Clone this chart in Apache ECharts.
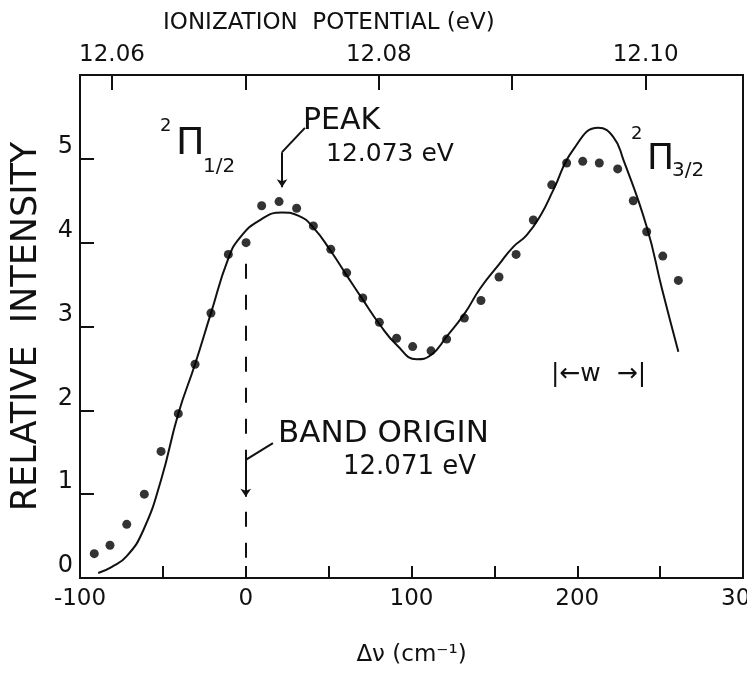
<!DOCTYPE html>
<html lang="en">
<head>
<meta charset="UTF-8">
<title>Relative intensity vs. wavenumber shift</title>
<script src="https://cdn.jsdelivr.net/npm/echarts@6.0.0/dist/echarts.min.js"></script>
<style>
  html, body { margin: 0; padding: 0; background: #fff; }
  #chart { width: 747px; height: 674px; }
</style>
</head>
<body>
<div id="chart"></div>
<script>
// observed points (dots): shift in cm^-1 and relative intensity
const dotShift = [-91.4, -81.9, -71.8, -61.2, -51.1, -40.7, -30.6, -21.0, -10.5, 0.2,
  9.6, 20.1, 30.7, 40.8, 51.3, 60.9, 70.6, 80.6, 91.0, 100.7,
  111.8, 121.2, 131.9, 141.9, 152.8, 163.1, 173.5, 184.6, 193.6, 203.3,
  213.3, 224.4, 233.8, 241.9, 251.6, 261.0];
const dotIntensity = [0.29, 0.39, 0.64, 1.00, 1.51, 1.96, 2.55, 3.16, 3.86, 4.00,
  4.44, 4.49, 4.41, 4.20, 3.92, 3.64, 3.34, 3.05, 2.86, 2.76,
  2.71, 2.85, 3.10, 3.31, 3.59, 3.86, 4.27, 4.69, 4.95, 4.97,
  4.95, 4.88, 4.50, 4.13, 3.84, 3.55];

// calculated contour (solid line)
const curveShift = [-89, -81, -71.8, -61.8, -51.1, -40.7, -30.6, -21.0, -10.7, -3.5,
  8.6, 22, 32, 40.8, 51.3, 60.9, 70.6, 80.6, 91.1, 103.1,
  111.8, 121.2, 131.9, 141.3, 152.8, 161.4, 169.5, 178, 185.6, 197.6,
  212.7, 221.8, 227.8, 241.9, 251.1, 261.0];
const curveIntensity = [0.06, 0.13, 0.26, 0.57, 1.17, 1.96, 2.55, 3.16, 3.80, 4.06,
  4.27, 4.36, 4.32, 4.18, 3.90, 3.61, 3.32, 3.03, 2.78, 2.61,
  2.66, 2.88, 3.15, 3.45, 3.74, 3.95, 4.09, 4.33, 4.63, 5.11,
  5.37, 5.26, 4.99, 4.19, 3.45, 2.70];

// axes
const shiftLabels = [-100, 0, 100, 200, 300];
const ipTicks = [12.06, 12.07, 12.08, 12.09, 12.10];
const ipLabels = [12.06, 12.08, 12.10];
const intensityLabels = [0, 1, 2, 3, 4, 5];

const FONT = 'DejaVu Sans';
const INK = '#111';

const chart = echarts.init(document.getElementById('chart'));

const option = {
  backgroundColor: '#fff',
  animation: false,
  title: {
    text: 'IONIZATION  POTENTIAL (eV)',
    left: 158,
    top: 7,
    textStyle: { fontFamily: FONT, fontSize: 23, fontWeight: 'normal', color: INK }
  },
  grid: {
    left: 80, right: 4, top: 75, bottom: 96,
    containLabel: false,
    outerBoundsMode: 'none',
    show: true, borderColor: INK, borderWidth: 2, backgroundColor: 'transparent'
  },
  xAxis: [
    {
      type: 'value',
      position: 'bottom',
      min: -100, max: 300, interval: 50,
      axisLine: { show: false, onZero: false },
      axisTick: { inside: true, length: 12, lineStyle: { color: INK, width: 2 } },
      splitLine: { show: false },
      axisLabel: {
        margin: 10, color: INK, fontFamily: FONT, fontSize: 23,
        formatter: v => (shiftLabels.indexOf(v) >= 0 ? String(v) : '')
      },
      name: 'Δν (cm⁻¹)',
      nameLocation: 'middle',
      nameGap: 66,
      nameTextStyle: { fontFamily: FONT, fontSize: 23, color: INK }
    },
    {
      type: 'value',
      position: 'top',
      min: 12.0576, max: 12.1073,
      axisLine: { show: false, onZero: false },
      axisTick: { inside: true, length: 15, customValues: ipTicks, lineStyle: { color: INK, width: 2 } },
      splitLine: { show: false },
      axisLabel: {
        margin: 8, color: INK, fontFamily: FONT, fontSize: 23,
        customValues: ipLabels,
        formatter: v => v.toFixed(2)
      }
    }
  ],
  yAxis: {
    type: 'value',
    min: 0, max: 6, interval: 1,
    axisLine: { show: false, onZero: false },
    axisTick: { inside: true, length: 14, lineStyle: { color: INK, width: 2 } },
    splitLine: { show: false },
    axisLabel: {
      margin: 7, color: INK, fontFamily: FONT, fontSize: 24, verticalAlign: 'bottom',
      formatter: v => (intensityLabels.indexOf(v) >= 0 ? String(v) : '')
    },
    name: 'RELATIVE  INTENSITY',
    nameLocation: 'middle',
    nameGap: 36,
    nameRotate: 90,
    nameTextStyle: { fontFamily: FONT, fontSize: 35, color: INK }
  },
  series: [
    {
      name: 'calculated',
      type: 'line',
      data: curveShift.map((x, i) => [x, curveIntensity[i]]),
      smooth: 0.5,
      symbol: 'none',
      lineStyle: { color: INK, width: 2 },
      z: 2,
      markLine: {
        silent: true,
        symbol: 'none',
        label: { show: false },
        lineStyle: { color: INK, width: 2, type: 'solid' },
        data: [
          // band origin dashed marker
          [{ coord: [0, 3.75], lineStyle: { type: [15, 16], width: 2 } }, { coord: [0, 0] }],
          // peak leader
          [{ coord: [35.7, 5.37] }, { coord: [21.9, 5.08] }],
          [{ coord: [21.9, 5.08] }, { coord: [21.9, 4.66], symbol: 'arrow', symbolSize: 8 }],
          // band origin leader
          [{ coord: [16.4, 1.61] }, { coord: [0, 1.41] }],
          [{ coord: [0, 1.41] }, { coord: [0, 0.97], symbol: 'arrow', symbolSize: 8 }]
        ]
      }
    },
    {
      name: 'observed',
      type: 'scatter',
      data: dotShift.map((x, i) => [x, dotIntensity[i]]),
      symbolSize: 9,
      itemStyle: { color: '#000' },
      z: 3
    }
  ],
  graphic: [
    { type: 'text', left: 160, top: 117, style: { text: '2', font: '18px ' + FONT, fill: INK } },
    { type: 'text', left: 176, top: 125, style: { text: 'Π', font: '38px ' + FONT, fill: INK } },
    { type: 'text', left: 203, top: 157, style: { text: '1/2', font: '20px ' + FONT, fill: INK } },

    { type: 'text', left: 303, top: 106, style: { text: 'PEAK', font: '30px ' + FONT, fill: INK } },
    { type: 'text', left: 326, top: 142, style: { text: '12.073 eV', font: '25px ' + FONT, fill: INK } },

    { type: 'text', left: 278, top: 418, style: { text: 'BAND ORIGIN', font: '31px ' + FONT, fill: INK } },
    { type: 'text', left: 343, top: 454, style: { text: '12.071 eV', font: '26px ' + FONT, fill: INK } },

    { type: 'text', left: 631, top: 125, style: { text: '2', font: '18px ' + FONT, fill: INK } },
    { type: 'text', left: 647, top: 142, style: { text: 'Π', font: '36px ' + FONT, fill: INK } },
    { type: 'text', left: 672, top: 161, style: { text: '3/2', font: '20px ' + FONT, fill: INK } },

    { type: 'text', left: 551, top: 362, style: { text: '|←w  →|', font: '25px ' + FONT, fill: INK } }
  ]
};

chart.setOption(option);
</script>
</body>
</html>
